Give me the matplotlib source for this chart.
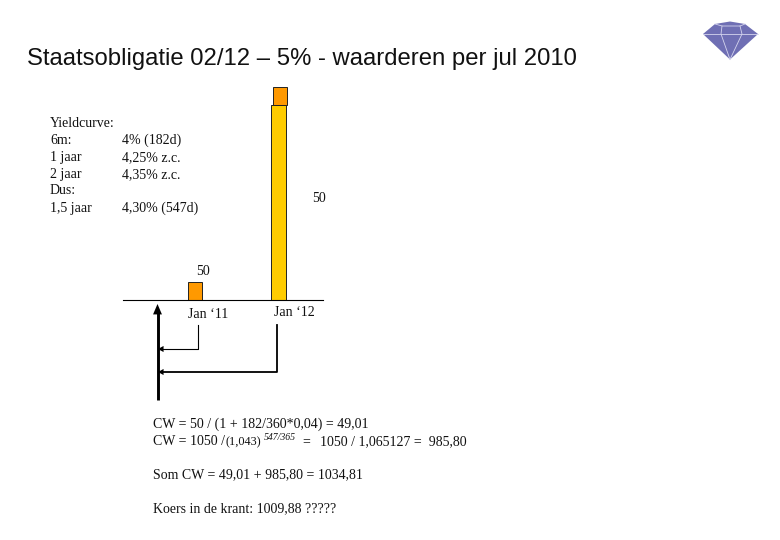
import matplotlib
matplotlib.use('Agg')
import matplotlib.pyplot as plt

# drawn bars, sizes as they appear on the slide
bar_left = [188, 271, 272.5]
bar_width = [14, 15, 14]
bar_height = [18, 195, 18]
bar_base = [300, 300, 105]
bar_color = ['#ff9900', '#ffcc00', '#ff9900']

curve_names = ['Yieldcurve:', '6m:', '1 jaar', '2 jaar', 'Dus:', '1,5 jaar']
curve_rates = ['', '4% (182d)', '4,25% z.c.', '4,35% z.c.', '', '4,30% (547d)']
curve_rows = [127, 144, 161, 178, 194, 212]

title = 'Staatsobligatie 02/12 – 5% - waarderen per jul 2010'

diamond_x = [703, 715, 730, 745, 758, 730]
diamond_y = [34, 24, 21.5, 24, 34, 59.5]
facet_lines = [
    ([703, 758], [34, 34]),
    ([722, 721, 730], [26, 34, 59.5]),
    ([740, 742, 730], [26, 34, 59.5]),
    ([715, 722, 740, 745], [24, 26, 26, 24]),
]

fig = plt.figure(figsize=(7.8, 5.4), dpi=100)
ax = fig.add_axes([0, 0, 1, 1])
ax.set_xlim(0, 780)
ax.set_ylim(540, 0)
ax.axis('off')

serif = 'Liberation Serif'
size = 10


def label(x, y, s, fs=size, **kw):
    ax.text(x, y, s, family=serif, fontsize=fs, color='#111111', va='baseline', **kw)


def head(x, y, x0, y0, w, l):
    style = '-|>,head_width=%s,head_length=%s' % (w, l)
    ax.annotate('', xy=(x, y), xytext=(x0, y0), zorder=4,
                arrowprops=dict(arrowstyle=style, color='black', lw=0, shrinkA=0, shrinkB=0))


ax.text(27, 59, title, family='Liberation Sans', fontsize=17.2, color='#111111', va='center')

for name, rate, row in zip(curve_names, curve_rates, curve_rows):
    label(50, row, name)
    label(122, row, rate)

# cash flows
ax.bar(bar_left, [-h for h in bar_height], width=bar_width, bottom=bar_base, align='edge',
       color=bar_color, edgecolor='#222222', linewidth=0.7, zorder=2)
ax.plot([123, 323], [300, 300], color='black', lw=0.8, zorder=3)

label(196, 275, '50')
label(312, 202, '50')
label(188, 318, 'Jan ‘11')
label(274, 316, 'Jan ‘12')

# present value arrows
ax.plot([157.5, 157.5], [312, 400], color='black', lw=2.1, solid_capstyle='butt')
head(157.5, 304, 157.5, 320, 0.32, 0.75)
ax.plot([198, 198, 160], [325, 349, 349], color='black', lw=0.8)
ax.plot([277, 277, 160], [325, 372, 372], color='black', lw=1.3)
head(158, 349, 168, 349, 0.22, 0.4)
head(158, 372, 168, 372, 0.22, 0.4)

# calculation
label(153, 428, 'CW = 50 / (1 + 182/360*0,04) = 49,01')
label(153, 445, 'CW = 1050 /')
label(226, 445, '(1,043)', fs=8.8)
label(264, 440, '547/365', fs=7, style='italic')
label(302, 445, '=')
label(320, 445, '1050 / 1,065127 =  985,80')
label(153, 478, 'Som CW = 49,01 + 985,80 = 1034,81')
label(153, 512, 'Koers in de krant: 1009,88 ?????')

# diamond
ax.fill(diamond_x, diamond_y, color='#6f6fb4', lw=0)
for xs, ys in facet_lines:
    ax.plot(xs, ys, color='#d5d5ee', lw=0.6)

fig.savefig('out.png', dpi=100)
